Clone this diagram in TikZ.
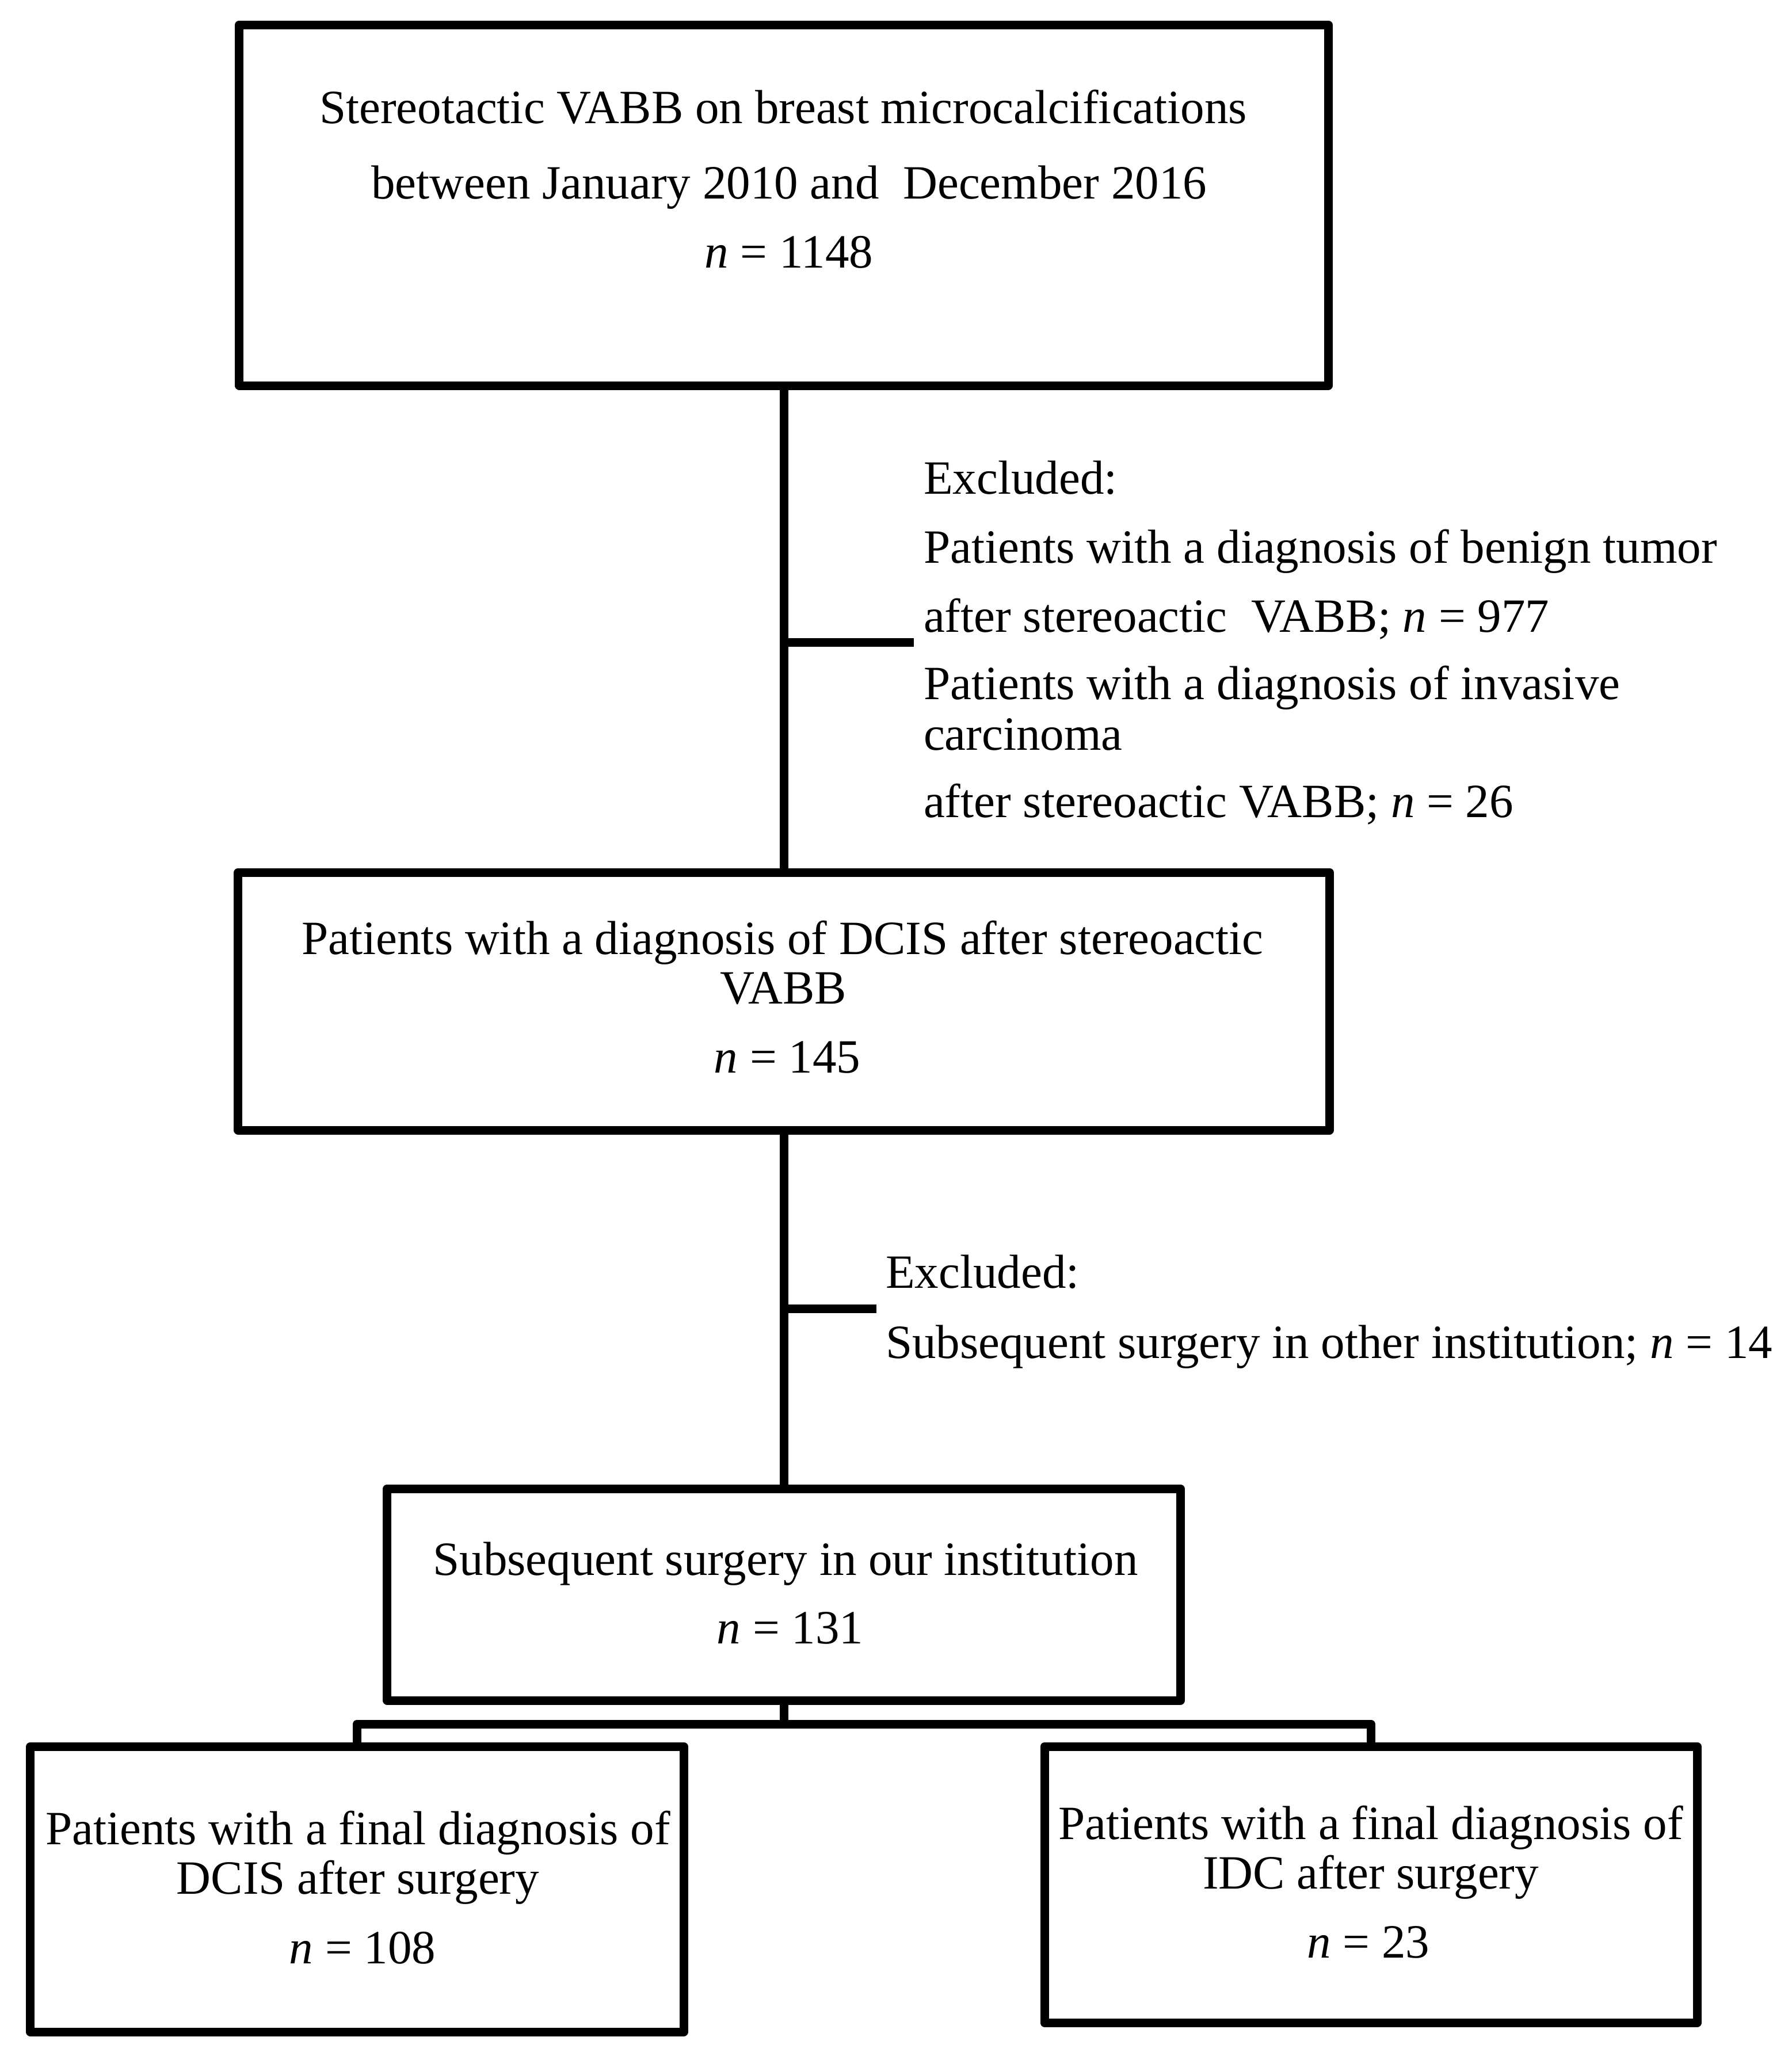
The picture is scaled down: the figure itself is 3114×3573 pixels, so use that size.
\documentclass[tikz,border=0pt]{standalone}
\usepackage{fontspec}
\setmainfont{Liberation Serif}
\begin{document}
\begin{tikzpicture}[x=0.2pt,y=-0.2pt,
  line width=3pt, line join=round,
  box/.style={draw, rectangle, inner sep=0pt, outer sep=0pt},
  txt/.style={inner sep=0pt, outer sep=0pt, anchor=base,
    font=\fontsize{16.6pt}{19pt}\selectfont},
  ltxt/.style={txt, anchor=base west}]
\useasboundingbox (0,0) rectangle (3114,3573);
% boxes
\node[box, minimum width=378.4pt, minimum height=125.4pt] (b1) at (1362,356.5) {};
\node[box, minimum width=379.2pt, minimum height=89.6pt] (b2) at (1362,1740) {};
\node[box, minimum width=275.6pt, minimum height=73.6pt] (b3) at (1362,2771) {};
\node[box, minimum width=227pt, minimum height=99.2pt] (b4) at (620.5,3283) {};
\node[box, minimum width=226.8pt, minimum height=96pt] (b5) at (2382,3275) {};
% box texts
\node[txt] (t1a) at (1361,214) {Stereotactic VABB on breast microcalcifications};
\node[txt] (t1b) at (1371,345) {between January 2010 and\ \ December 2016};
\node[txt] (t1c) at (1371,465) {\textit{n} = 1148};
\node[txt] (t2a) at (1360,1658) {Patients with a diagnosis of DCIS after stereoactic};
\node[txt] (t2b) at (1361,1744) {VABB};
\node[txt] (t2c) at (1368,1864) {\textit{n} = 145};
\node[txt] (t3a) at (1365,2737) {Subsequent surgery in our institution};
\node[txt] (t3b) at (1373,2856) {\textit{n} = 131};
\node[txt] (t4a) at (622,3205) {Patients with a final diagnosis of};
\node[txt] (t4b) at (622,3291) {DCIS after surgery};
\node[txt] (t4c) at (630,3412) {\textit{n} = 108};
\node[txt] (t5a) at (2382,3196) {Patients with a final diagnosis of};
\node[txt] (t5b) at (2382,3282) {IDC after surgery};
\node[txt] (t5c) at (2378,3402) {\textit{n} = 23};
% exclusion texts
\node[ltxt] (e1a) at (1605,858) {Excluded:};
\node[ltxt] (e1b) at (1605,978) {Patients with a diagnosis of benign tumor};
\node[ltxt] (e1c) at (1605,1098) {after stereoactic\ \ VABB; \textit{n} = 977};
\node[ltxt] (e1d) at (1605,1215) {Patients with a diagnosis of invasive};
\node[ltxt] (e1e) at (1605,1303) {carcinoma};
\node[ltxt] (e1f) at (1605,1420) {after stereoactic VABB; \textit{n} = 26};
\node[ltxt] (e2a) at (1539,2238) {Excluded:};
\node[ltxt] (e2b) at (1539,2360) {Subsequent surgery in other institution; \textit{n} = 14};
% connectors
\draw (b1.south) -- (b2.north);
\draw (b2.south) -- (b3.north);
\coordinate (s1) at (1362,1116);
\coordinate (s1e) at (1588,1116);
\draw (s1) -- (s1e);
\coordinate (s2) at (1362,2274);
\coordinate (s2e) at (1523,2274);
\draw (s2) -- (s2e);
\coordinate (br) at (1362,2996);
\draw (b3.south) -- (br);
\draw (b4.north) |- (br) -| (b5.north);
\end{tikzpicture}
\end{document}
